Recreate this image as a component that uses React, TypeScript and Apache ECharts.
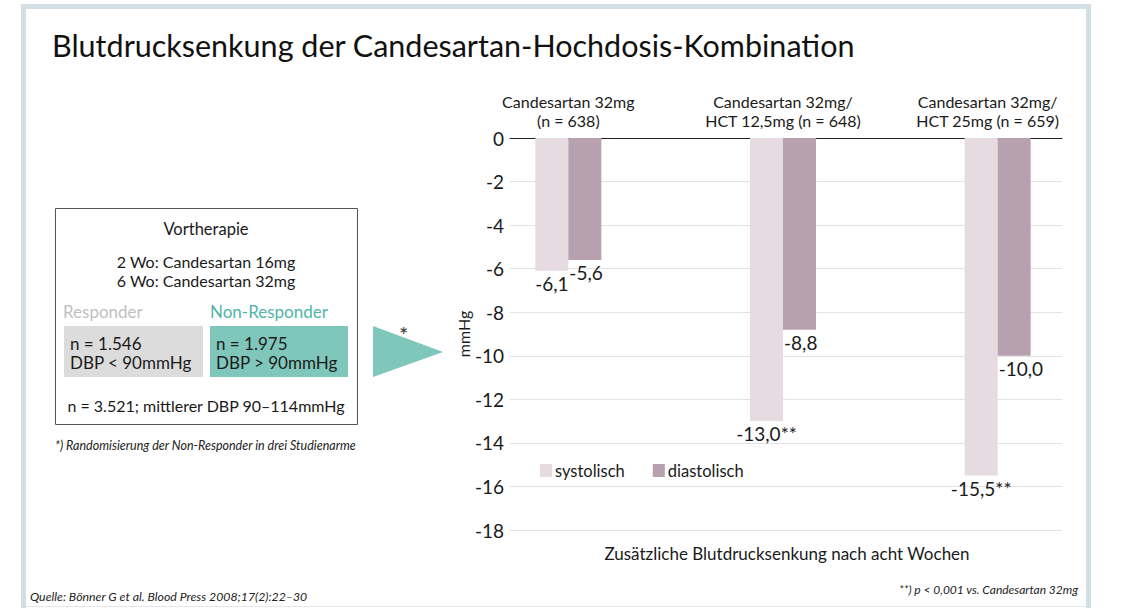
import React, { useEffect, useRef } from "react";
import * as echarts from "echarts";

const categories = [
  "Candesartan 32mg\n(n = 638)",
  "Candesartan 32mg/\nHCT 12,5mg (n = 648)",
  "Candesartan 32mg/\nHCT 25mg (n = 659)",
];
const systolic = [-6.1, -13.0, -15.5];
const diastolic = [-5.6, -8.8, -10.0];
const sysMarks = ["", "**", "**"];
const diaMarks = ["", "", ""];
const seriesNames = ["systolisch", "diastolisch"];
const xTitle = "Zusätzliche Blutdrucksenkung nach acht Wochen";
const yMin = -18;
const yMax = 0;
const yStep = 2;

const FONT = "Lato";
const SYS_COLOR = "#e5dbe1";
const DIA_COLOR = "#b8a1ae";
const TEAL = "#7fc6bb";
const TEXT = "#1a1a1a";

const fmt = (v: number) => v.toFixed(1).replace(".", ",");

export default function App() {
  const ref = useRef<HTMLDivElement>(null);
  useEffect(() => {
    if (!ref.current) return;
    const chart = echarts.init(ref.current, null, { renderer: "svg" });
    const txt = (x: number, y: number, text: string, extra: any = {}) => ({
      type: "text",
      x,
      y,
      style: {
        text,
        fontFamily: FONT,
        fontSize: 16,
        fill: TEXT,
        ...extra,
      },
      silent: true,
    });
    chart.setOption({
      animation: false,
      backgroundColor: "#ffffff",
      textStyle: { fontFamily: FONT },
      grid: [
        { left: 510, right: 61, top: 138, bottom: 78 },
        { left: 461, right: 18, top: 138, bottom: 78 },
      ],
      xAxis: [
        {
          gridIndex: 0,
          type: "category",
          data: categories,
          position: "top",
          axisLine: { show: true, lineStyle: { color: "#222", width: 1.2 } },
          axisTick: { show: false },
          axisLabel: { show: false },
          splitLine: { show: false },
        },
        {
          gridIndex: 1,
          type: "category",
          data: categories,
          position: "top",
          axisLine: { show: false },
          axisTick: { show: false },
          axisLabel: {
            margin: 8,
            fontSize: 16,
            lineHeight: 19,
            color: TEXT,
            fontFamily: FONT,
            formatter: (value: string, index: number) =>
              index === 2
                ? value
                    .split("\n")
                    .map((l) => `{s|${l}}`)
                    .join("\n")
                : value,
            rich: {
              s: {
                fontSize: 16,
                lineHeight: 19,
                color: TEXT,
                fontFamily: FONT,
                padding: [0, 20, 0, 0],
              },
            },
          },
        },
      ],
      yAxis: [
        {
          gridIndex: 0,
          type: "value",
          min: yMin,
          max: yMax,
          interval: yStep,
          axisLine: { show: false },
          axisTick: { show: false },
          axisLabel: { fontSize: 19, color: TEXT, fontFamily: FONT, margin: 6 },
          splitLine: { show: true, lineStyle: { color: "#e2e2e2", width: 1.2 } },
          name: "mmHg",
          nameLocation: "middle",
          nameRotate: 90,
          nameGap: 38,
          nameTextStyle: { fontSize: 16, color: TEXT, fontFamily: FONT },
        },
        {
          gridIndex: 1,
          type: "value",
          min: yMin,
          max: yMax,
          interval: yStep,
          show: false,
          splitLine: { show: false },
        },
      ],
      legend: {
        left: 535,
        top: 457,
        itemWidth: 12,
        itemHeight: 13,
        itemGap: 28,
        icon: "rect",
        data: seriesNames,
        textStyle: { fontSize: 16.5, color: TEXT, fontFamily: FONT, padding: [0, 0, 0, -2] },
      },
      series: [
        {
          name: seriesNames[0],
          type: "bar",
          xAxisIndex: 1,
          yAxisIndex: 1,
          data: systolic,
          barWidth: 33,
          barGap: "0%",
          itemStyle: { color: SYS_COLOR },
          label: {
            show: true,
            position: "bottom",
            distance: 3,
            fontSize: 19,
            color: TEXT,
            fontFamily: FONT,
            formatter: (p: any) => fmt(p.value) + sysMarks[p.dataIndex],
          },
        },
        {
          name: seriesNames[1],
          type: "bar",
          xAxisIndex: 1,
          yAxisIndex: 1,
          data: diastolic,
          barWidth: 33,
          barGap: "0%",
          itemStyle: { color: DIA_COLOR },
          label: {
            show: true,
            position: [1, "100%"],
            align: "left",
            verticalAlign: "top",
            offset: [0, 3],
            fontSize: 19,
            color: TEXT,
            fontFamily: FONT,
            formatter: (p: any) => fmt(p.value) + diaMarks[p.dataIndex],
          },
        },
      ],
      graphic: [
        // frame
        {
          type: "rect",
          shape: { x: 23.5, y: 6.5, width: 1065, height: 640 },
          style: { fill: "none", stroke: "#d3dee5", lineWidth: 5 },
          silent: true,
        },
        {
          type: "line",
          shape: { x1: 26, y1: 606.5, x2: 1086, y2: 606.5 },
          style: { stroke: "#e4e7ea", lineWidth: 1 },
          silent: true,
        },
        // title
        txt(52, 29, "Blutdrucksenkung der Candesartan-Hochdosis-Kombination", {
          fontSize: 30.5,
          fill: "#111",
        }),
        // x axis title
        txt(787, 545, xTitle, { fontSize: 17, textAlign: "center" }),
        // left box
        {
          type: "rect",
          shape: { x: 55.5, y: 208.5, width: 302, height: 216 },
          style: { fill: "#fff", stroke: "#555", lineWidth: 1 },
          silent: true,
        },
        txt(206, 220, "Vortherapie", { textAlign: "center", fontSize: 16.5 }),
        txt(206, 253, "2 Wo: Candesartan 16mg", { textAlign: "center" }),
        txt(206, 272, "6 Wo: Candesartan 32mg", { textAlign: "center" }),
        txt(63, 303, "Responder", { fill: "#bfbfbf", fontSize: 17 }),
        txt(210, 303, "Non-Responder", { fill: "#4fb5a7", fontSize: 17 }),
        {
          type: "rect",
          shape: { x: 64, y: 326, width: 139, height: 51 },
          style: { fill: "#dcdcdc" },
          silent: true,
        },
        {
          type: "rect",
          shape: { x: 210, y: 326, width: 138, height: 51 },
          style: { fill: TEAL },
          silent: true,
        },
        txt(70, 335, "n = 1.546", { fontSize: 17 }),
        txt(70, 354, "DBP < 90mmHg", { fontSize: 17 }),
        txt(216, 335, "n = 1.975", { fontSize: 17 }),
        txt(216, 354, "DBP > 90mmHg", { fontSize: 17 }),
        txt(206, 397, "n = 3.521; mittlerer DBP 90–114mmHg", { textAlign: "center" }),
        txt(55, 439, "*) Randomisierung der Non-Responder in drei Studienarme", {
          fontSize: 12.5,
          fontStyle: "italic",
          fill: "#222",
        }),
        // triangle
        {
          type: "polygon",
          shape: { points: [[373, 326], [373, 377], [443, 352]] },
          style: { fill: TEAL },
          silent: true,
        },
        txt(399, 323, "*", { fontSize: 22, fill: "#333" }),
        // footnotes
        txt(30, 590, "Quelle: Bönner G et al. Blood Press 2008;17(2):22–30", {
          fontSize: 12.3,
          fontStyle: "italic",
          fill: "#222",
        }),
        txt(1078, 583, "**) p < 0,001 vs. Candesartan 32mg", {
          fontSize: 12,
          fontStyle: "italic",
          fill: "#222",
          textAlign: "right",
        }),
      ],
    });
    return () => chart.dispose();
  }, []);
  return (
    <div
      ref={ref}
      style={{ position: "absolute", left: 0, top: 0, width: 1123, height: 608 }}
    />
  );
}
